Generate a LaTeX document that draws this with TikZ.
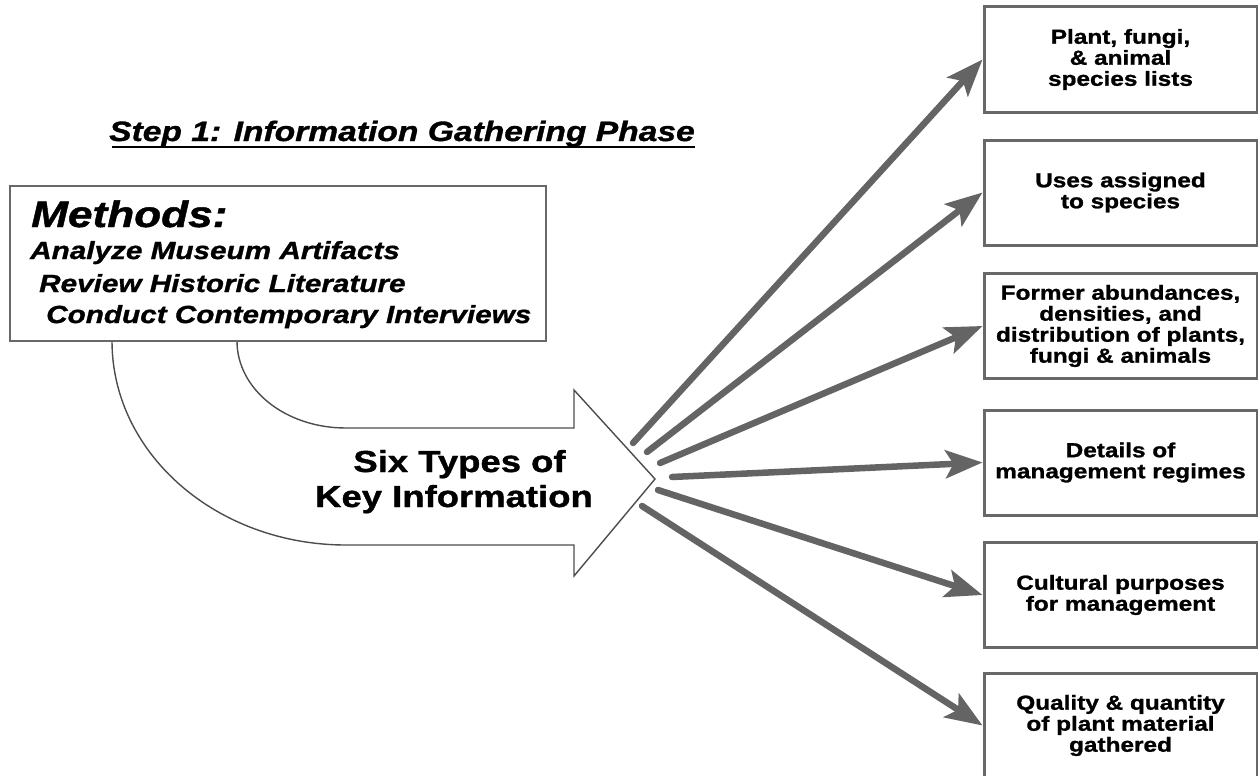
\documentclass[tikz,border=0pt]{standalone}
\usepackage{fontspec}
\setmainfont[FakeStretch=1.2,BoldFeatures={FakeBold=1.2},BoldItalicFeatures={FakeBold=1.2}]{Liberation Sans}
\usetikzlibrary{arrows.meta}
\definecolor{boxgray}{HTML}{686868}
\definecolor{conngray}{HTML}{646464}
\definecolor{outlinegray}{HTML}{4D4D4D}
\tikzset{
  infobox/.style={draw=boxgray, line width=3pt, minimum width=273pt, minimum height=105pt,
    inner sep=0pt, align=center, fill=white, font=\fontsize{20.3}{21}\selectfont\bfseries},
  methbox/.style={draw=boxgray, line width=2.5pt, inner sep=0pt, fill=white},
  methline/.style={anchor=base west, inner sep=0pt, font=\fontsize{24.75}{26}\selectfont\bfseries\itshape},
  keytext/.style={anchor=base, inner sep=0pt, font=\fontsize{30.4}{32}\selectfont\bfseries},
  conn/.style={draw=conngray, line width=6.5pt, line cap=round,
    -{Stealth[length=37pt,width=28pt,inset=8pt]}},
  bigarrow/.style={draw=outlinegray, line width=1.4pt, fill=white, line join=miter}
}
\begin{document}
\begin{tikzpicture}[x=1pt,y=-1pt]
\useasboundingbox (0,0) rectangle (1258,776);
\clip (0,0) rectangle (1258,776);

% title
\node (title) [anchor=base west, inner sep=0pt, font=\fontsize{28}{30}\selectfont\bfseries\itshape]
  at (109,141) {Step 1: Information Gathering Phase};
\draw[line width=2.8pt] ([xshift=3pt]title.south west) -- (title.south east);

% big curved arrow
\draw[bigarrow] (112,341) .. controls (112,454) and (217,545) .. (346,545)
  -- (574,545) -- (574,576) -- (655,479) -- (574,390) -- (574,428) -- (346,428)
  .. controls (285,428) and (237,389) .. (237,341);

% methods box
\node[methbox, minimum width=536pt, minimum height=155pt] (methods) at (278,263.5) {};
\node[methline, font=\fontsize{36.8}{38}\selectfont\bfseries\itshape] (mhead) at (31,227) {Methods:};
\node[methline] (m1) at (30,259) {Analyze Museum Artifacts};
\node[methline] (m2) at (39,292) {Review Historic Literature};
\node[methline] (m3) at (46,323) {Conduct Contemporary Interviews};

% key information label
\node[keytext] (key1) at (459.5,472) {Six Types of};
\node[keytext] (key2) at (454,507) {Key Information};

% right boxes
\node[infobox] (b1) at (1120.5,59.5) {Plant, fungi,\\ \& animal\\ species lists};
\node[infobox] (b2) at (1120.5,192.5) {Uses assigned\\ to species};
\node[infobox] (b3) at (1120.5,326) {Former abundances,\\ densities, and\\ distribution of plants,\\ fungi \& animals};
\node[infobox] (b4) at (1120.5,462.5) {Details of\\ management regimes};
\node[infobox] (b5) at (1120.5,595) {Cultural purposes\\ for management};
\node[infobox] (b6) at (1120.5,725.5) {Quality \& quantity\\ of plant material\\ gathered};

% connector start points
\coordinate (s1) at (633,443);
\coordinate (s2) at (647,452);
\coordinate (s3) at (660,463);
\coordinate (s4) at (672,477);
\coordinate (s5) at (658,490);
\coordinate (s6) at (642,506);

\draw[conn] (s1) -- (b1.west);
\draw[conn] (s2) -- (b2.west);
\draw[conn] (s3) -- (b3.west);
\draw[conn] (s4) -- (b4.west);
\draw[conn] (s5) -- (b5.west);
\draw[conn] (s6) -- (b6.west);
\end{tikzpicture}
\end{document}
